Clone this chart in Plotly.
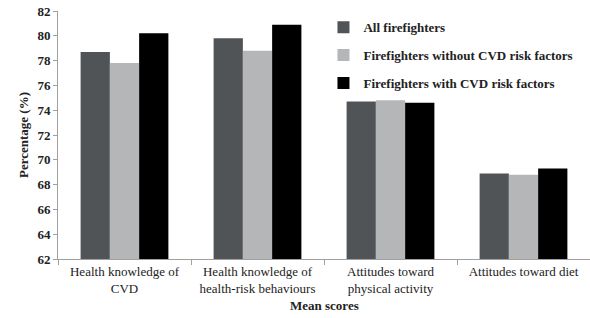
import plotly.graph_objects as go

categories = ["Health knowledge of<br>CVD", "Health knowledge of<br>health-risk behaviours",
              "Attitudes toward<br>physical activity", "Attitudes toward diet"]
series_names = ["All firefighters", "Firefighters without CVD risk factors",
                "Firefighters with CVD risk factors"]
all_ff = [78.7, 79.8, 74.7, 68.9]
without_cvd = [77.8, 78.8, 74.8, 68.8]
with_cvd = [80.2, 80.9, 74.6, 69.3]
colors = ["#505456", "#b4b6b8", "#000000"]
y_ticks = list(range(62, 83, 2))

fig = go.Figure()
for i, (name, vals) in enumerate(zip(series_names, [all_ff, without_cvd, with_cvd])):
    fig.add_trace(go.Bar(x=categories, y=vals, name=name, marker_color=colors[i],
                         marker_line_width=0, legendgroup=str(i)))

serif = "Liberation Serif, Times New Roman, serif"
fs = 13
fig.update_layout(
    width=590, height=318,
    margin=dict(l=58, r=0, t=11, b=59, autoexpand=False),
    barmode="group", bargap=0.34, bargroupgap=0,
    plot_bgcolor="white", paper_bgcolor="white",
    font=dict(family=serif, size=fs, color="#222"),
    legend=dict(x=0.499, y=0.995, xanchor="left", yanchor="top",
                font=dict(family=serif, size=fs, color="#222", weight="bold"),
                traceorder="grouped", tracegroupgap=8, itemwidth=30,
                bgcolor="rgba(0,0,0,0)"),
    xaxis=dict(showline=True, linecolor="#a0a0a0", linewidth=1, ticks="outside",
               tickson="boundaries", ticklen=5, tickcolor="#a0a0a0", automargin=False,
               tickfont=dict(family=serif, size=fs, color="#222")),
    yaxis=dict(range=[62, 82], tickvals=y_ticks, showline=True, linecolor="#a0a0a0",
               linewidth=1, ticks="outside", ticklen=4, tickcolor="#a0a0a0",
               showgrid=False, zeroline=False, automargin=False,
               tickfont=dict(family=serif, size=fs, color="#222", weight="bold"),
               title=dict(text="<b>Percentage (%)</b>", standoff=5,
                          font=dict(family=serif, size=fs, color="#222"))),
    annotations=[dict(text="<b>Mean scores</b>", xref="paper", yref="paper",
                      x=0.5, y=-46 / 248, xanchor="center", yanchor="middle",
                      showarrow=False, font=dict(family=serif, size=fs, color="#222"))],
)
# remove the browser's default 8px body margin so the 590x318 figure fills the window
fig.write_html("out.html", config={"displayModeBar": False},
               post_script="document.body.style.margin='0';")
